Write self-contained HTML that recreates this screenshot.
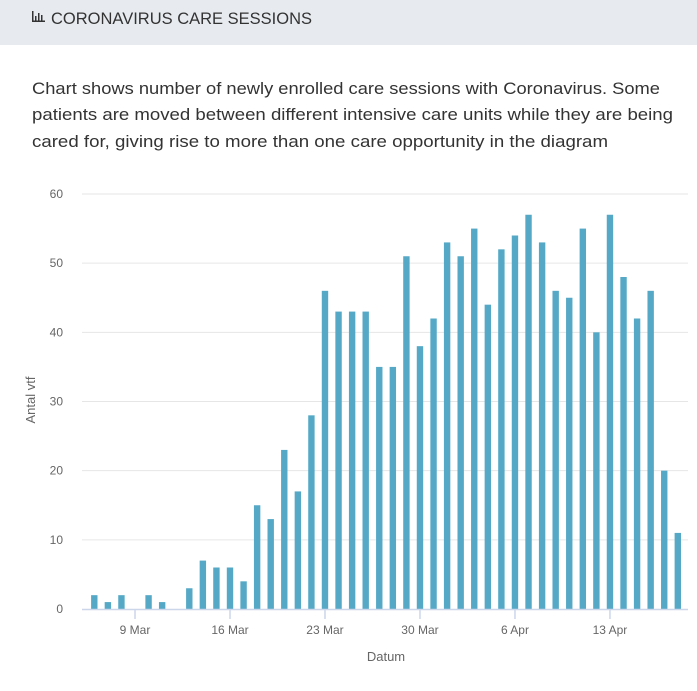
<!DOCTYPE html>
<html><head><meta charset="utf-8"><style>
html,body{margin:0;padding:0;background:#fff;width:697px;height:691px;overflow:hidden;font-family:"Liberation Sans",sans-serif}
</style></head><body>
<svg id="page" width="697" height="691" xmlns="http://www.w3.org/2000/svg">
<rect x="0" y="0" width="697" height="45" fill="#e7ebef"/>
<rect x="0" y="45" width="697" height="646" fill="#fff"/>
<g fill="#333">
<rect x="32" y="11" width="1.5" height="11"/><rect x="32" y="20.5" width="13" height="1.5"/>
<rect x="35" y="16" width="1.5" height="4.5"/><rect x="38" y="13" width="1.5" height="7.5"/><rect x="41" y="15" width="1.5" height="5.5"/>
</g>
<text x="51" y="24" font-size="16.5" fill="#333" textLength="261" lengthAdjust="spacingAndGlyphs">CORONAVIRUS CARE SESSIONS</text>
<g font-size="17" fill="#333">
<text x="32" y="94" textLength="628" lengthAdjust="spacingAndGlyphs">Chart shows number of newly enrolled care sessions with Coronavirus. Some</text>
<text x="32" y="120" textLength="641" lengthAdjust="spacingAndGlyphs">patients are moved between different intensive care units while they are being</text>
<text x="32" y="147" textLength="576" lengthAdjust="spacingAndGlyphs">cared for, giving rise to more than one care opportunity in the diagram</text>
</g>
<g id="chart"></g>
</svg>
<script>
const values=[2,1,2,0,2,1,0,3,7,6,6,4,15,13,23,17,28,46,43,43,43,35,35,51,38,42,53,51,55,44,52,54,57,53,46,45,55,40,57,48,42,46,20,11];
const tickLabels=["9 Mar","16 Mar","23 Mar","30 Mar","6 Apr","13 Apr"];
const tickDayIndex=[3,10,17,24,31,38];
const yTicks=[0,10,20,30,40,50,60];
const NS="http://www.w3.org/2000/svg";
const g=document.getElementById("chart");
const x0=94.3,dx=13.57,yBase=609,yScale=(609-194)/60;
const xs=i=>x0+i*dx, ys=v=>yBase-v*yScale;
function el(t,a){const e=document.createElementNS(NS,t);for(const k in a)e.setAttribute(k,a[k]);g.appendChild(e);return e;}
yTicks.forEach(v=>{
 if(v>0){const l=el("line",{x1:82,x2:688,y1:ys(v),y2:ys(v),stroke:"#e6e6e6","stroke-width":1});
 
 }
 const t=el("text",{x:63,y:ys(v)+4,"text-anchor":"end","font-size":"12",fill:"#666"});
 t.textContent=v;
 
 
});
values.forEach((v,i)=>{
 const r=el("rect",{x:xs(i)-3.2,y:ys(v),width:6.4,height:v*yScale,fill:"#55a9c6"});
 
 
});
const ax=el("line",{x1:82,x2:688,y1:609.5,y2:609.5,stroke:"#ccd6eb","stroke-width":1.5});


tickLabels.forEach((s,k)=>{
 const x=xs(tickDayIndex[k]);
 const tk=el("line",{x1:x,x2:x,y1:609,y2:619,stroke:"#ccd6eb","stroke-width":1.5});
 
 
 const t=el("text",{x:x,y:634,"text-anchor":"middle","font-size":"12",fill:"#666"});
 t.textContent=s;
 
 
});
const yt=el("text",{x:0,y:0,"text-anchor":"middle","font-size":"13",fill:"#666",transform:"translate(35,400) rotate(-90)"});
yt.textContent="Antal vtf";


const xt=el("text",{x:386,y:661,"text-anchor":"middle","font-size":"13",fill:"#666"});
xt.textContent="Datum";


</script>
</body></html>
